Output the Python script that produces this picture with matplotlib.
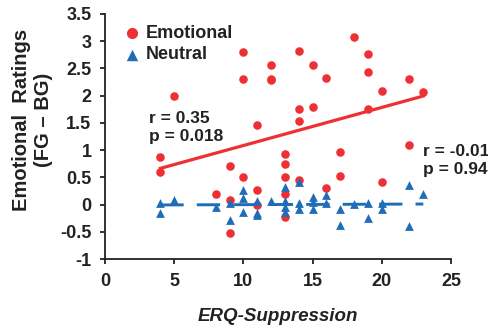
import numpy as np
import matplotlib
matplotlib.use("Agg")
import matplotlib.pyplot as plt

plt.rcParams['font.family'] = ['Liberation Sans', 'DejaVu Sans']
plt.rcParams['font.weight'] = 'bold'

# ===== data =====
emo_x = [4, 4, 5, 8, 9, 9, 9, 10, 10, 10, 11, 11, 11, 12, 12, 12,
         13, 13, 13, 13, 13, 14, 14, 14, 14, 15, 15, 16, 16, 17, 17,
         18, 19, 19, 19, 20, 20, 22, 22, 23]
emo_y = [0.87, 0.59, 2.00, 0.19, 0.70, 0.09, -0.52, 2.80, 2.31, 0.50,
         1.47, 0.27, -0.01, 2.57, 2.31, 2.28, 0.92, 0.74, 0.50, 0.20,
         -0.23, 2.82, 1.76, 1.54, 0.45, 2.57, 1.80, 2.33, 0.30, 0.96,
         0.52, 3.08, 2.76, 2.43, 1.76, 2.08, 0.41, 2.31, 1.10, 2.06]

neu_x = [4, 4, 5, 8, 9, 9, 10, 10, 10, 11, 11, 11, 12, 13, 13, 13, 13,
         14, 14, 14, 15, 15, 15, 16, 16, 17, 17, 18, 19, 19, 20, 20,
         22, 22, 23]
neu_y = [0.03, -0.15, 0.09, -0.05, 0.03, -0.28, 0.26, 0.12, -0.13, 0.07,
         -0.15, -0.20, 0.06, 0.33, 0.07, -0.04, -0.13, 0.42, 0.03, -0.08,
         0.14, 0.04, -0.08, 0.18, 0.03, -0.08, -0.37, 0.01, 0.03, -0.25,
         0.03, -0.08, 0.36, -0.40, 0.20]

stats_emo = "r = 0.35\np = 0.018"
stats_neu = "r = -0.01\np = 0.94"

RED = "#EE3035"
BLUE = "#1F6DB6"
INK = "#222222"

fig = plt.figure(figsize=(4.89, 3.25), dpi=100)
ax = fig.add_axes([0.2147, 0.203, 0.7076, 0.754])

ax.scatter(emo_x, emo_y, s=38, color=RED, marker="o", linewidths=0,
           label="Emotional", zorder=3)
ax.scatter(neu_x, neu_y, s=40, color=BLUE, marker="^", linewidths=0,
           label="Neutral", zorder=4)

# regression lines
xs = np.array([min(emo_x), max(emo_x)])
k, b = np.polyfit(emo_x, emo_y, 1)
ax.plot(xs, k * xs + b, color=RED, lw=2.3, zorder=2)

xs2 = np.array([min(neu_x), max(neu_x)])
k2, b2 = np.polyfit(neu_x, neu_y, 1)
ax.plot(xs2, k2 * xs2 + b2, color=BLUE, lw=2.1, dashes=(8, 4.5), zorder=5)

ax.text(3.2, 1.72, stats_emo, fontsize=12.5, fontweight="bold",
        va="top", ha="left", color=INK, linespacing=1.25)
ax.text(23.0, 1.12, stats_neu, fontsize=12.5, fontweight="bold",
        va="top", ha="left", color=INK, linespacing=1.25)

ax.set_xlim(0, 25)
ax.set_ylim(-1, 3.5)
ax.set_xticks(np.arange(0, 26, 5))
ax.set_yticks(np.arange(-1, 3.6, 0.5))
ax.set_yticklabels([f"{v:g}" for v in np.arange(-1, 3.6, 0.5)])

for s in ["top", "right"]:
    ax.spines[s].set_visible(False)
for s in ["left", "bottom"]:
    ax.spines[s].set_linewidth(1.3)
    ax.spines[s].set_color(INK)
ax.tick_params(direction="out", length=3.8, width=1.3, colors=INK,
               labelsize=13)
ax.tick_params(axis="x", pad=6)
ax.tick_params(axis="y", pad=6)
for lab in ax.get_xticklabels() + ax.get_yticklabels():
    lab.set_fontweight("bold")

ax.set_xlabel("ERQ-Suppression", fontsize=13.5, fontweight="bold",
              fontstyle="italic", color=INK, labelpad=13)
fig.text(0.066, 0.63, "Emotional  Ratings\n(FG \u2013 BG)", rotation=90,
         ha="center", va="center", multialignment="center",
         fontsize=14.5, fontweight="bold", color=INK, linespacing=1.2)

leg = ax.legend(loc="upper left", bbox_to_anchor=(0.025, 0.985), frameon=False,
                fontsize=13, handletextpad=0.2, borderaxespad=0,
                labelspacing=0.25, markerscale=1.3, handlelength=1.2)
for t in leg.get_texts():
    t.set_color(INK)
    t.set_fontweight("bold")

fig.savefig("out.png", dpi=100)
